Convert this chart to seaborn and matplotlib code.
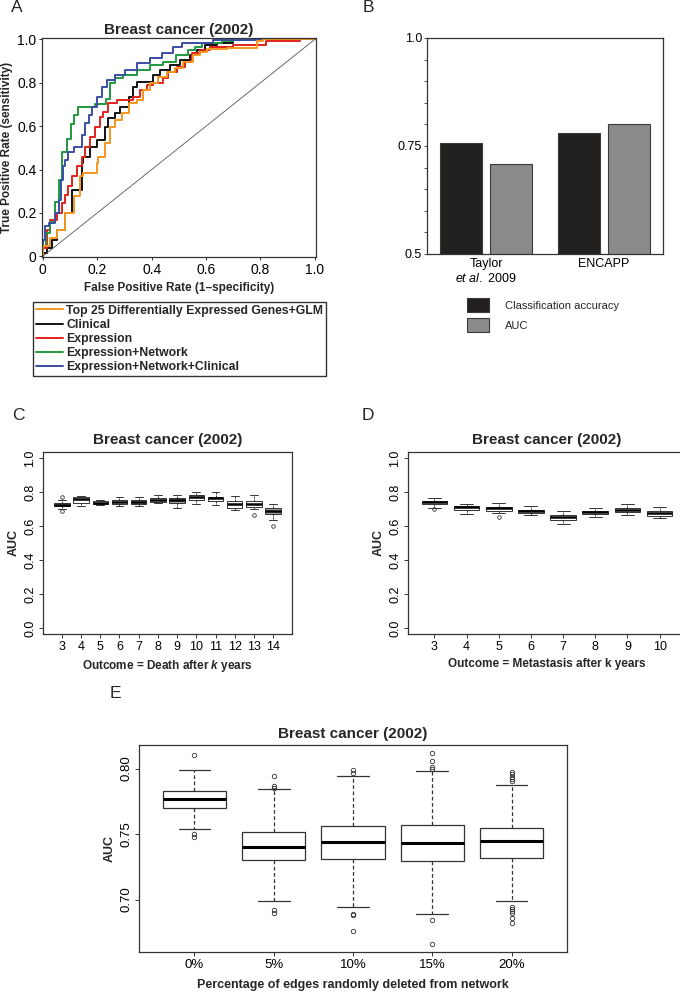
import pandas as pd
import seaborn as sns
import matplotlib.pyplot as plt
from matplotlib.lines import Line2D
from matplotlib.patches import Patch
from matplotlib.ticker import MultipleLocator

W, H = 680, 992

# panel A: ROC curves
roc_models = ['Top 25 Differentially Expressed Genes+GLM', 'Clinical', 'Expression',
              'Expression+Network', 'Expression+Network+Clinical']
roc_colors = ['#f4971f', '#111111', '#e2231a', '#1f9a3e', '#3b4ea3']

fpr_top25 = [0, 0, 0.027, 0.051, 0.082, 0.113, 0.137, 0.149, 0.168, 0.198, 0.204, 0.229, 0.247,
             0.266, 0.29, 0.315, 0.345, 0.37, 0.394, 0.425, 0.455, 0.486, 0.516, 0.553, 0.578,
             0.602, 0.627, 0.676, 0.786, 0.81, 0.884, 1.0]
tpr_top25 = [0, 0.015, 0.046, 0.084, 0.123, 0.2, 0.276, 0.368, 0.383, 0.383, 0.429, 0.46, 0.521,
             0.598, 0.629, 0.66, 0.706, 0.721, 0.767, 0.798, 0.828, 0.851, 0.867, 0.897, 0.928,
             0.943, 0.954, 0.954, 0.959, 0.99, 1.0, 1.0]
fpr_clinical = [0, 0.015, 0.033, 0.051, 0.082, 0.106, 0.119, 0.143, 0.149, 0.174, 0.198, 0.229,
                0.241, 0.266, 0.284, 0.315, 0.333, 0.345, 0.364, 0.406, 0.431, 0.467, 0.504,
                0.541, 0.565, 0.596, 0.639, 0.70, 0.774, 0.82, 1.0]
tpr_clinical = [0, 0.015, 0.038, 0.077, 0.123, 0.2, 0.307, 0.307, 0.429, 0.46, 0.506, 0.537,
                0.598, 0.637, 0.66, 0.69, 0.736, 0.782, 0.805, 0.805, 0.836, 0.859, 0.882,
                0.905, 0.928, 0.951, 0.974, 0.982, 0.997, 1.0, 1.0]
fpr_expr = [0, 0.015, 0.027, 0.051, 0.07, 0.082, 0.094, 0.106, 0.125, 0.143, 0.155, 0.174, 0.192,
            0.211, 0.223, 0.241, 0.272, 0.296, 0.333, 0.357, 0.382, 0.406, 0.443, 0.461, 0.492,
            0.523, 0.547, 0.578, 0.614, 0.70, 0.822, 0.945, 1.0]
tpr_expr = [0, 0.038, 0.123, 0.169, 0.2, 0.245, 0.284, 0.322, 0.368, 0.414, 0.46, 0.506, 0.552,
            0.598, 0.644, 0.667, 0.706, 0.721, 0.721, 0.736, 0.767, 0.79, 0.798, 0.82, 0.851,
            0.874, 0.897, 0.936, 0.951, 0.966, 0.974, 0.99, 1.0]
fpr_net = [0, 0.01, 0.027, 0.045, 0.058, 0.07, 0.088, 0.103, 0.115, 0.131, 0.147, 0.192, 0.233,
           0.247, 0.266, 0.296, 0.345, 0.394, 0.443, 0.49, 0.535, 0.559, 0.584, 0.627, 0.657,
           0.70, 0.82, 1.0]
tpr_net = [0, 0.046, 0.107, 0.16, 0.25, 0.35, 0.48, 0.54, 0.61, 0.65, 0.687, 0.687, 0.70,
           0.725, 0.80, 0.82, 0.836, 0.859, 0.88, 0.897, 0.928, 0.951, 0.966, 0.982, 0.985,
           0.99, 1.0, 1.0]
fpr_netclin = [0, 0.009, 0.024, 0.045, 0.058, 0.066, 0.073, 0.082, 0.094, 0.115, 0.143, 0.155,
               0.168, 0.18, 0.198, 0.217, 0.235, 0.266, 0.302, 0.345, 0.394, 0.437, 0.48, 0.51,
               0.541, 0.627, 0.798, 0.871]
tpr_netclin = [0, 0.077, 0.138, 0.153, 0.2, 0.26, 0.353, 0.414, 0.445, 0.483, 0.506, 0.56,
               0.613, 0.652, 0.69, 0.736, 0.782, 0.813, 0.836, 0.859, 0.89, 0.913, 0.936, 0.966,
               0.982, 0.985, 0.997, 1.0]

# panel B
studies = ['Taylor\n$\\it{et\\ al.}$ 2009', 'ENCAPP']
metrics = ['Classification accuracy', 'AUC']
accuracy = [0.758, 0.781]
auc = [0.709, 0.801]
bar_colors = ['#231f20', '#8a8a8a']

# panel C: death after k years (box summaries)
c_years = ['3', '4', '5', '6', '7', '8', '9', '10', '11', '12', '13', '14']
c_lo = [0.700, 0.720, 0.725, 0.720, 0.717, 0.733, 0.708, 0.727, 0.723, 0.692, 0.697, 0.635]
c_q1 = [0.715, 0.735, 0.730, 0.730, 0.727, 0.743, 0.735, 0.755, 0.748, 0.705, 0.710, 0.672]
c_med = [0.725, 0.757, 0.738, 0.742, 0.742, 0.755, 0.752, 0.773, 0.762, 0.730, 0.730, 0.688]
c_q3 = [0.735, 0.768, 0.745, 0.752, 0.755, 0.763, 0.767, 0.782, 0.773, 0.748, 0.745, 0.703]
c_hi = [0.750, 0.778, 0.755, 0.768, 0.770, 0.782, 0.785, 0.797, 0.802, 0.778, 0.780, 0.730]
c_out = [[0.768, 0.686], [], [], [], [], [], [], [], [], [], [0.663], [0.598]]
c_fill = ['#9a9a9a', 'white', 'white', 'white', '#9a9a9a', 'white', '#9a9a9a', 'white',
          'white', 'white', 'white', '#9a9a9a']

# panel D: metastasis after k years
d_years = ['3', '4', '5', '6', '7', '8', '9', '10']
d_lo = [0.708, 0.670, 0.677, 0.663, 0.612, 0.650, 0.665, 0.648]
d_q1 = [0.730, 0.695, 0.690, 0.679, 0.633, 0.673, 0.683, 0.660]
d_med = [0.740, 0.713, 0.703, 0.688, 0.650, 0.682, 0.695, 0.675]
d_q3 = [0.748, 0.720, 0.714, 0.695, 0.662, 0.690, 0.708, 0.686]
d_hi = [0.767, 0.728, 0.735, 0.717, 0.687, 0.706, 0.728, 0.713]
d_out = [[0.700], [], [0.655], [], [], [], [], []]

# panel E: edges randomly deleted
e_pct = ['0%', '5%', '10%', '15%', '20%']
e_lo = [0.7538, 0.6990, 0.6947, 0.6888, 0.6992]
e_q1 = [0.7700, 0.7300, 0.7307, 0.7292, 0.7320]
e_med = [0.7769, 0.7404, 0.7437, 0.7429, 0.7444]
e_q3 = [0.7827, 0.7518, 0.7563, 0.7571, 0.7548]
e_hi = [0.7987, 0.7843, 0.7942, 0.7982, 0.7873]
e_out = [[0.8107, 0.7497, 0.7475],
         [0.7944, 0.7868, 0.7853, 0.6921, 0.6896],
         [0.7987, 0.7967, 0.6893, 0.6883, 0.6764],
         [0.8119, 0.8058, 0.8010, 0.8000, 0.6845, 0.6660],
         [0.7977, 0.7957, 0.7937, 0.7921, 0.7906, 0.6942, 0.6929, 0.6916, 0.6901, 0.6858, 0.6820]]

#
#
#
sns.set_style('ticks')
plt.rcParams['font.family'] = ['Liberation Sans', 'DejaVu Sans']
plt.rcParams['mathtext.fontset'] = 'custom'
plt.rcParams['mathtext.rm'] = 'Liberation Sans'
plt.rcParams['mathtext.it'] = 'Liberation Sans:italic'
plt.rcParams['mathtext.bf'] = 'Liberation Sans:bold'
plt.rcParams['mathtext.bfit'] = 'Liberation Sans:italic:bold'
plt.rcParams['axes.edgecolor'] = '#333333'
plt.rcParams['axes.linewidth'] = 0.9
plt.rcParams['xtick.color'] = '#333333'
plt.rcParams['ytick.color'] = '#333333'
plt.rcParams['xtick.labelcolor'] = 'black'
plt.rcParams['ytick.labelcolor'] = 'black'

fig = plt.figure(figsize=(W / 100, H / 100), dpi=100)


def px_axes(left, top, right, bottom):
    return fig.add_axes([left / W, 1 - bottom / H, (right - left) / W, (bottom - top) / H])


def panel_letter(x, y, s):
    fig.text(x / W, 1 - y / H, s, fontsize=12.5, ha='center', va='center')


title_kw = dict(fontsize=11, fontweight='bold')

#
# A
#
axA = px_axes(42, 38, 316, 257)
roc = pd.concat([pd.DataFrame({'fpr': f, 'tpr': t, 'model': m}) for m, f, t in zip(
    roc_models,
    [fpr_top25, fpr_clinical, fpr_expr, fpr_net, fpr_netclin],
    [tpr_top25, tpr_clinical, tpr_expr, tpr_net, tpr_netclin])])
draw_order = roc_models[1:] + [roc_models[0]]
sns.lineplot(data=roc, x='fpr', y='tpr', hue='model', hue_order=draw_order,
             palette=dict(zip(roc_models, roc_colors)), estimator=None, sort=False,
             drawstyle='steps-pre', lw=1.4, legend=False, ax=axA)
axA.axline((0, 0), slope=1, color='#555555', lw=0.6)
axA.set_xlim(-0.003, 1.004)
axA.set_ylim(-0.003, 1.006)
ticks = [0, 0.2, 0.4, 0.6, 0.8, 1.0]
tick_labels = ['0', '0.2', '0.4', '0.6', '0.8', '1.0']
axA.set_xticks(ticks, tick_labels)
axA.set_yticks(ticks, tick_labels)
axA.tick_params(labelsize=10, length=2, width=0.7, pad=2)
axA.set_title('Breast cancer (2002)', pad=3, **title_kw)
axA.set_xlabel('False Positive Rate (1\u2013specificity)', fontsize=8.5, fontweight='bold', labelpad=4)
axA.set_ylabel('True Positive Rate (sensitivity)', fontsize=8.5, fontweight='bold', labelpad=3)
handles = [Line2D([], [], color=c, lw=1.4) for c in roc_colors]
fig.legend(handles, roc_models, loc='upper left', bbox_to_anchor=(33 / W, 1 - 302 / H),
           frameon=True, fancybox=False, edgecolor='#333333', framealpha=1,
           prop=dict(weight='bold', size=8.8), handlelength=2.2, handletextpad=0.3,
           borderpad=0.22, labelspacing=0.18, borderaxespad=0)
panel_letter(17, 8, 'A')

#
# B
#
axB = px_axes(427, 38, 663, 254)
dfB = pd.DataFrame({'study': studies * 2, 'metric': [metrics[0]] * 2 + [metrics[1]] * 2,
                    'value': accuracy + auc})
sns.barplot(data=dfB, x='study', y='value', hue='metric', hue_order=metrics,
            palette=dict(zip(metrics, bar_colors)), width=0.84, gap=0.15,
            edgecolor='#3a3a3a', linewidth=0.8, legend=False, ax=axB)
axB.set_ylim(0.5, 1.0)
axB.set_xlim(-0.5, 1.5)
axB.set_yticks([0.5, 0.75, 1.0], ['0.5', '0.75', '1.0'])
axB.yaxis.set_minor_locator(MultipleLocator(0.05))
axB.tick_params(axis='y', which='both', labelsize=9, length=2, width=0.6, pad=1.5)
axB.tick_params(axis='x', length=0, labelsize=9, pad=3)
axB.set_xlabel('')
axB.set_ylabel('')
fig.legend([Patch(facecolor=c, edgecolor='#3a3a3a', lw=0.8) for c in bar_colors], metrics,
           loc='upper left', bbox_to_anchor=(467 / W, 1 - 298 / H), frameon=False,
           fontsize=8, handlelength=2.0, handleheight=1.6, handletextpad=1.4,
           labelspacing=0.5, borderpad=0, borderaxespad=0)
panel_letter(368, 8, 'B')


#
# boxes
#
def box_stats(lo, q1, med, q3, hi, out):
    return [dict(whislo=a, q1=b, med=c, q3=d, whishi=e, fliers=f)
            for a, b, c, d, e, f in zip(lo, q1, med, q3, hi, out)]


def draw_boxes(ax, stats, fills, lw, med_lw, dash, ms):
    parts = ax.bxp(stats, positions=range(len(stats)), widths=0.8, capwidths=0.4,
                   patch_artist=True, manage_ticks=False,
                   boxprops=dict(edgecolor='#333333', lw=lw),
                   medianprops=dict(color='black', lw=med_lw, solid_capstyle='butt'),
                   whiskerprops=dict(color='#333333', lw=lw, ls=dash),
                   capprops=dict(color='#333333', lw=lw),
                   flierprops=dict(marker='o', mfc='none', mec='#333333', ms=ms, mew=0.6))
    for box, fc in zip(parts['boxes'], fills):
        box.set_facecolor(fc)


def r_axes(ax, labels, ylim, yticks, ytick_labels, fontsize):
    ax.set_xticks(range(len(labels)), labels)
    ax.set_ylim(*ylim)
    ax.set_yticks(yticks, ytick_labels)
    ax.tick_params(labelsize=fontsize, length=3, width=0.7, pad=2)
    for lab in ax.get_yticklabels():
        lab.set_rotation(90)
        lab.set_va('center')


unit_ticks = [0, 0.2, 0.4, 0.6, 0.8, 1.0]
unit_labels = ['0.0', '0.2', '0.4', '0.6', '0.8', '1.0']

axC = px_axes(43, 452, 292, 634)
draw_boxes(axC, box_stats(c_lo, c_q1, c_med, c_q3, c_hi, c_out), c_fill, 0.7, 1.8, (0, (2, 1)), 2.6)
axC.set_xlim(-0.98, 11.98)
r_axes(axC, c_years, (-0.035, 1.035), unit_ticks, unit_labels, 9)
axC.set_title('Breast cancer (2002)', pad=6, **title_kw)
axC.set_ylabel('AUC', fontsize=9, fontweight='bold', labelpad=3)
axC.set_xlabel('Outcome = Death after $\\mathbfit{k}$ years', fontsize=8.5, fontweight='bold', labelpad=4)
panel_letter(18, 415, 'C')

axD = px_axes(408, 452, 686, 634)
draw_boxes(axD, box_stats(d_lo, d_q1, d_med, d_q3, d_hi, d_out), ['white'] * 8, 0.7, 1.8, (0, (2, 1)), 2.6)
axD.set_xlim(-0.82, 7.82)
r_axes(axD, d_years, (-0.035, 1.035), unit_ticks, unit_labels, 9)
axD.set_title('Breast cancer (2002)', pad=6, **title_kw)
axD.set_ylabel('AUC', fontsize=9, fontweight='bold', labelpad=3)
axD.set_xlabel('Outcome = Metastasis after k years', fontsize=8.5, fontweight='bold', labelpad=4)
panel_letter(368, 415, 'D')

axE = px_axes(139, 745, 567, 952)
draw_boxes(axE, box_stats(e_lo, e_q1, e_med, e_q3, e_hi, e_out), ['white'] * 5, 0.9, 2.2, (0, (3, 2)), 3.2)
axE.set_xlim(-0.70, 4.70)
r_axes(axE, e_pct, (0.66, 0.818), [0.70, 0.75, 0.80], ['0.70', '0.75', '0.80'], 9.5)
axE.set_title('Breast cancer (2002)', pad=5, **title_kw)
axE.set_ylabel('AUC', fontsize=9, fontweight='bold', labelpad=3)
axE.set_xlabel('Percentage of edges randomly deleted from network', fontsize=9,
               fontweight='bold', labelpad=6)
panel_letter(115, 693, 'E')

plt.savefig('out.png', dpi=100)
